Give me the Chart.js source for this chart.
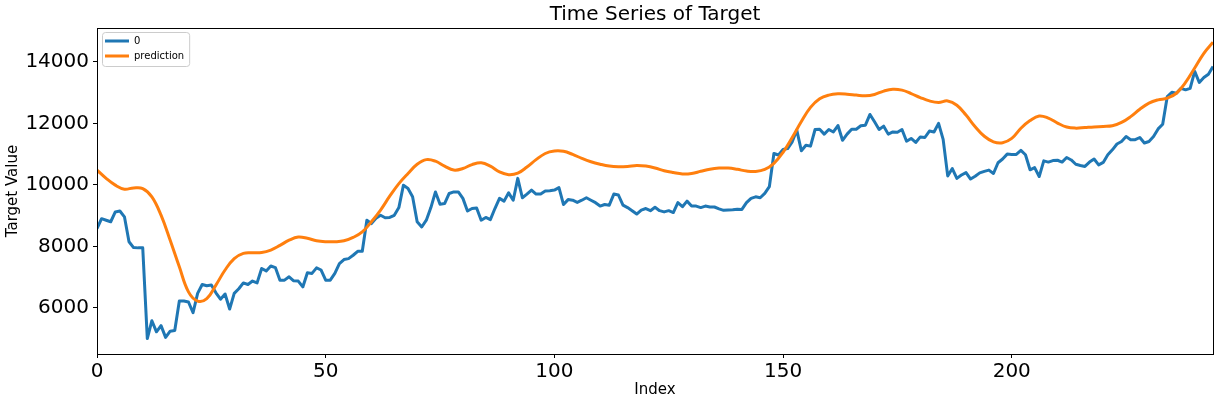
<!DOCTYPE html>
<html>
<head>
    <title>Time Series of Target</title>
    <script src="https://cdn.jsdelivr.net/npm/chart.js"></script>
    <style>
        body { margin: 0; background: #fff; }
    </style>
</head>
<body>
    <canvas id="tschart" width="1220" height="406"></canvas>

    <script>
        // Nilai target (seri "0"), indeks 0..244
        const targetValues = [
            8580, 8900, 8850, 8800, 9120, 9150, 8960, 8150, 7960, 7950,
            7950, 5000, 5580, 5220, 5420, 5040, 5240, 5260, 6220, 6220,
            6190, 5840, 6470, 6760, 6720, 6740, 6490, 6280, 6450, 5960,
            6470, 6620, 6810, 6760, 6870, 6810, 7280, 7200, 7360, 7310,
            6900, 6900, 7010, 6880, 6870, 6680, 7140, 7120, 7300, 7230,
            6900, 6900, 7120, 7440, 7570, 7600, 7710, 7840, 7840, 8850,
            8740, 8910, 9010, 8930, 8940, 9010, 9260, 9990, 9880, 9610,
            8800, 8630, 8850, 9260, 9770, 9370, 9390, 9720, 9770, 9770,
            9560, 9150, 9230, 9250, 8850, 8940, 8870, 9230, 9560, 9470,
            9740, 9500, 10210, 9580, 9700, 9830, 9700, 9700, 9800, 9810,
            9830, 9910, 9360, 9520, 9500, 9430, 9500, 9580, 9500, 9420,
            9310, 9360, 9340, 9700, 9670, 9340, 9260, 9160, 9050, 9180,
            9230, 9160, 9270, 9160, 9120, 9160, 9100, 9420, 9290, 9470,
            9310, 9310, 9260, 9310, 9280, 9280, 9220, 9170, 9180, 9190,
            9210, 9200, 9420, 9560, 9610, 9580, 9720, 9940, 11020, 10970,
            11150, 11180, 11400, 11780, 11110, 11290, 11260, 11800, 11810, 11650,
            11800, 11720, 11930, 11450, 11650, 11810, 11810, 11920, 11940, 12290,
            12050, 11800, 11910, 11650, 11720, 11710, 11800, 11420, 11510, 11380,
            11560, 11540, 11750, 11720, 12000, 11480, 10290, 10530, 10210, 10320,
            10400, 10190, 10280, 10390, 10440, 10480, 10370, 10720, 10840, 11000,
            10990, 10990, 11120, 10980, 10490, 10560, 10270, 10780, 10740, 10790,
            10800, 10740, 10890, 10810, 10670, 10630, 10600, 10740, 10840, 10650,
            10730, 10980, 11140, 11330, 11410, 11570, 11470, 11470, 11540, 11360,
            11410, 11570, 11820, 11970, 12870, 13010, 12980, 13140, 13090, 13140,
            13690, 13330, 13490, 13600, 13850
        ];

        // Prediksi (kurva halus), dibaca tiap 2 indeks
        const predIndex = Array.from({length: 123}, (_, i) => i * 2);
        const predValues = [
            10480, 10210, 9990, 9860, 9900, 9880, 9610, 9015, 8200, 7335,
            6520, 6220, 6300, 6740, 7230, 7600, 7770, 7790, 7800, 7880,
            8030, 8200, 8300, 8260, 8180, 8150, 8150, 8180, 8290, 8470,
            8800, 9180, 9630, 10040, 10370, 10670, 10820, 10770, 10610, 10480,
            10530, 10660, 10720, 10610, 10420, 10330, 10380, 10580, 10820, 11020,
            11100, 11090, 10990, 10860, 10750, 10670, 10610, 10590, 10600, 10630,
            10610, 10550, 10460, 10400, 10355, 10370, 10440, 10510, 10545, 10545,
            10505, 10450, 10435, 10500, 10700, 11060, 11540, 12060, 12520, 12800,
            12920, 12960, 12950, 12920, 12895, 12940, 13050, 13110, 13080, 12970,
            12840, 12730, 12680, 12730, 12590, 12270, 11890, 11580, 11400, 11370,
            11510, 11840, 12090, 12240, 12170, 12010, 11880, 11845, 11865, 11885,
            11900, 11920, 12030, 12220, 12460, 12660, 12765, 12820, 12980, 13330,
            13800, 14280, 14640
        ];

        const xTicks = [0, 50, 100, 150, 200];
        const yTicks = [6000, 8000, 10000, 12000, 14000];

        const fontFamily = '"DejaVu Sans", sans-serif';

        // Legend di dalam area grafik, judul di tengah area plot, bingkai (gaya matplotlib)
        const framePlugin = {
            id: 'frame',
            afterLayout(chart) {
                const area = chart.chartArea;
                const lg = chart.legend;
                const w = lg.width, h = lg.height;
                lg.left = area.left + 3;
                lg.top = area.top + 3;
                lg.right = lg.left + w;
                lg.bottom = lg.top + h;

                const tb = chart.titleBlock;
                if (tb) {
                    tb.left = area.left;
                    tb.right = area.right;
                    tb.width = area.right - area.left;
                }
            },
            beforeDraw(chart) {
                const hb = chart.legend.legendHitBoxes;
                if (!hb || !hb.length) return;
                const ctx = chart.ctx;
                const x0 = Math.min(...hb.map(b => b.left)) - 3;
                const x1 = Math.max(...hb.map(b => b.left + b.width)) + 5;
                const y0 = hb[0].top - 4;
                const y1 = hb[hb.length - 1].top + hb[hb.length - 1].height + 5;
                ctx.save();
                ctx.beginPath();
                ctx.roundRect(x0 + 0.5, y0 + 0.5, x1 - x0, y1 - y0, 3);
                ctx.fillStyle = 'rgba(255,255,255,0.8)';
                ctx.fill();
                ctx.strokeStyle = '#cccccc';
                ctx.lineWidth = 1;
                ctx.stroke();
                ctx.restore();
            },
            afterDraw(chart) {
                const {left, top, right, bottom} = chart.chartArea;
                const ctx = chart.ctx;
                ctx.save();
                ctx.strokeStyle = '#000';
                ctx.lineWidth = 1;
                ctx.strokeRect(left + 0.5, top + 0.5, right - left, bottom - top);
                ctx.restore();
            }
        };

        const ctx = document.getElementById('tschart').getContext('2d');
        const tsChart = new Chart(ctx, {
            type: 'line',
            data: {
                datasets: [
                    {
                        label: '0',
                        data: targetValues.map((v, i) => ({x: i, y: v})),
                        borderColor: '#1f77b4',
                        backgroundColor: '#1f77b4',
                        borderWidth: 3,
                        borderJoinStyle: 'round',
                        pointRadius: 0,
                        tension: 0,
                        order: 1
                    },
                    {
                        label: 'prediction',
                        data: predIndex.map((x, i) => ({x: x, y: predValues[i]})),
                        borderColor: '#ff7f0e',
                        backgroundColor: '#ff7f0e',
                        borderWidth: 3,
                        borderJoinStyle: 'round',
                        pointRadius: 0,
                        tension: 0.4,
                        order: 0
                    }
                ]
            },
            options: {
                responsive: false,
                animation: false,
                layout: {
                    padding: {left: 0, right: 7, top: 0, bottom: 0}
                },
                scales: {
                    x: {
                        type: 'linear',
                        min: 0,
                        max: 244,
                        bounds: 'data',
                        afterBuildTicks: (scale) => { scale.ticks = xTicks.map(v => ({value: v})); },
                        afterFit: (scale) => { scale.height = 52; },
                        grid: {
                            display: true,
                            drawOnChartArea: false,
                            drawTicks: true,
                            tickLength: 4,
                            tickColor: '#000'
                        },
                        border: { display: false },
                        ticks: {
                            color: '#000',
                            font: { family: fontFamily, size: 20 },
                            padding: 2,
                            maxRotation: 0,
                            autoSkip: false
                        },
                        title: {
                            display: true,
                            text: 'Index',
                            color: '#000',
                            font: { family: fontFamily, size: 15 },
                            padding: { top: 0, bottom: 7 }
                        }
                    },
                    y: {
                        type: 'linear',
                        min: 4498,
                        max: 15102,
                        bounds: 'data',
                        afterBuildTicks: (scale) => { scale.ticks = yTicks.map(v => ({value: v})); },
                        afterFit: (scale) => { scale.width = 97; },
                        grid: {
                            display: true,
                            drawOnChartArea: false,
                            drawTicks: true,
                            tickLength: 4,
                            tickColor: '#000'
                        },
                        border: { display: false },
                        ticks: {
                            color: '#000',
                            font: { family: fontFamily, size: 20 },
                            padding: 4,
                            autoSkip: false,
                            callback: (v) => String(v)
                        },
                        title: {
                            display: true,
                            text: 'Target Value',
                            color: '#000',
                            font: { family: fontFamily, size: 15 },
                            padding: { top: 4, bottom: 0 }
                        }
                    }
                },
                plugins: {
                    title: {
                        display: true,
                        text: 'Time Series of Target',
                        color: '#000',
                        font: { family: fontFamily, size: 20, weight: 'normal' },
                        padding: { top: 3, bottom: 1 }
                    },
                    legend: {
                        position: 'chartArea',
                        align: 'start',
                        labels: {
                            usePointStyle: true,
                            pointStyle: 'line',
                            pointStyleWidth: 24,
                            padding: 5,
                            color: '#000',
                            font: { family: fontFamily, size: 10 },
                            sort: (a, b) => a.datasetIndex - b.datasetIndex
                        }
                    },
                    tooltip: { enabled: false }
                }
            },
            plugins: [framePlugin]
        });
    </script>
</body>
</html>
